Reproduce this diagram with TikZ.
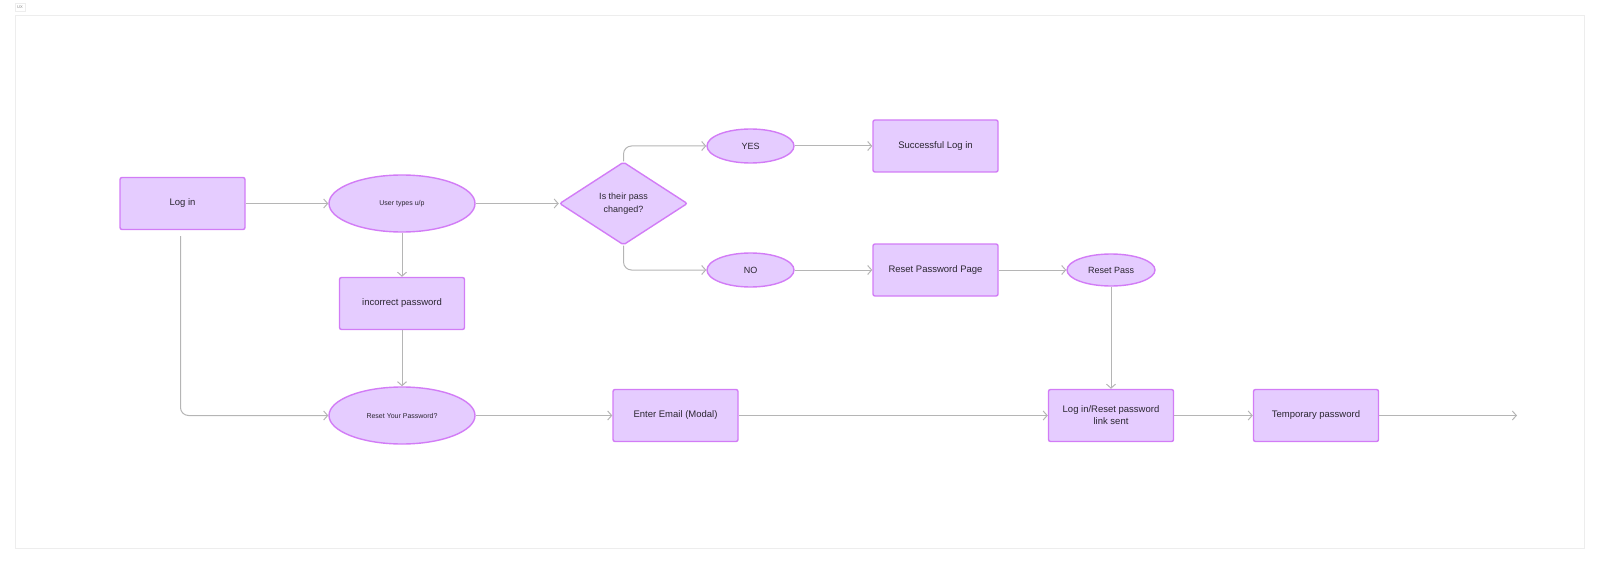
\documentclass[tikz,border=0pt]{standalone}
\usepackage{fontspec}
\setmainfont{Liberation Sans}
\usetikzlibrary{shapes.geometric,arrows.meta}

\definecolor{boxfill}{HTML}{E5CCFF}
\definecolor{boxline}{HTML}{D27CF6}
\definecolor{flowgray}{HTML}{B5B5B5}
\definecolor{framegray}{HTML}{EDEDED}
\definecolor{labeltext}{HTML}{2A2630}

\begin{document}
\begin{tikzpicture}[x=1pt,y=-1pt,
  box/.style={draw=boxline, fill=boxfill, line width=1.4pt, rounded corners=2pt,
    minimum width=125pt, minimum height=52pt, text=labeltext, font=\fontsize{9.5}{12}\selectfont, align=center},
  oval/.style={ellipse, draw=boxline, fill=boxfill, line width=1.4pt,
    minimum width=146pt, minimum height=57pt, text=labeltext, font=\fontsize{7}{9}\selectfont},
  smalloval/.style={oval, minimum width=87pt, minimum height=34pt, font=\fontsize{9}{11}\selectfont},
  decision/.style={diamond, draw=boxline, fill=boxfill, line width=1.4pt, rounded corners=2pt,
    aspect=1.53, minimum width=128pt, minimum height=83pt, inner sep=0pt,
    text=labeltext, font=\fontsize{9}{13}\selectfont, align=center},
  flow/.style={draw=flowgray, line width=1pt, -{Straight Barb[length=4pt,width=9pt,line width=1pt]}},
  ]
\useasboundingbox (0,0) rectangle (1600,564);

% Frame and its tag
\draw[framegray, line width=0.8pt] (15,15) rectangle (1584,548);
\draw[framegray, line width=0.6pt] (15,3) rectangle (25,11);
\node[text=gray, font=\fontsize{4}{4}\selectfont, inner sep=0pt] (tag) at (20,7) {UX};

% Top row
\node[box] (login) at (182.5,203.5) {Log in};
\node[oval] (user) at (402,203.5) {User types u/p};
\node[decision] (pass) at (623.5,203.5) {Is their pass\\changed?};

% Yes / No branches
\node[smalloval] (yes) at (750.5,146) {YES};
\node[box] (success) at (935.5,146) {Successful Log in};
\node[smalloval] (no) at (750.5,270) {NO};
\node[box] (resetpage) at (935.5,270) {Reset Password Page};
\node[smalloval, minimum width=88pt, minimum height=32pt] (resetpass) at (1111,270) {Reset Pass};

% Wrong password path
\node[box] (wrong) at (402,303.5) {incorrect password};
\node[oval] (resetq) at (402,415.5) {Reset Your Password?};

% Bottom row
\node[box] (email) at (675.5,415.5) {Enter Email (Modal)};
\node[box] (linksent) at (1111,415.5) {Log in/Reset password\\link sent};
\node[box] (temp) at (1316,415.5) {Temporary password};
\coordinate (done) at (1517,415.5);

% Connectors
\draw[flow] (login) -- (user);
\draw[flow] (user) -- (pass);
\draw[flow, rounded corners=8pt] (pass.north) |- (yes.west);
\draw[flow, rounded corners=8pt] (pass.south) |- (no.west);
\draw[flow] (yes) -- (success);
\draw[flow] (no) -- (resetpage);
\draw[flow] (resetpage) -- (resetpass);
\draw[flow] (resetpass) -- (linksent);
\draw[flow] (user) -- (wrong);
\draw[flow] (wrong) -- (resetq);
\draw[flow, rounded corners=8pt] ([xshift=-2pt,yshift=-6pt]login.south) |- (resetq.west);
\draw[flow] (resetq) -- (email);
\draw[flow] (email) -- (linksent);
\draw[flow] (linksent) -- (temp);
\draw[flow] (temp) -- (done);
\end{tikzpicture}
\end{document}
